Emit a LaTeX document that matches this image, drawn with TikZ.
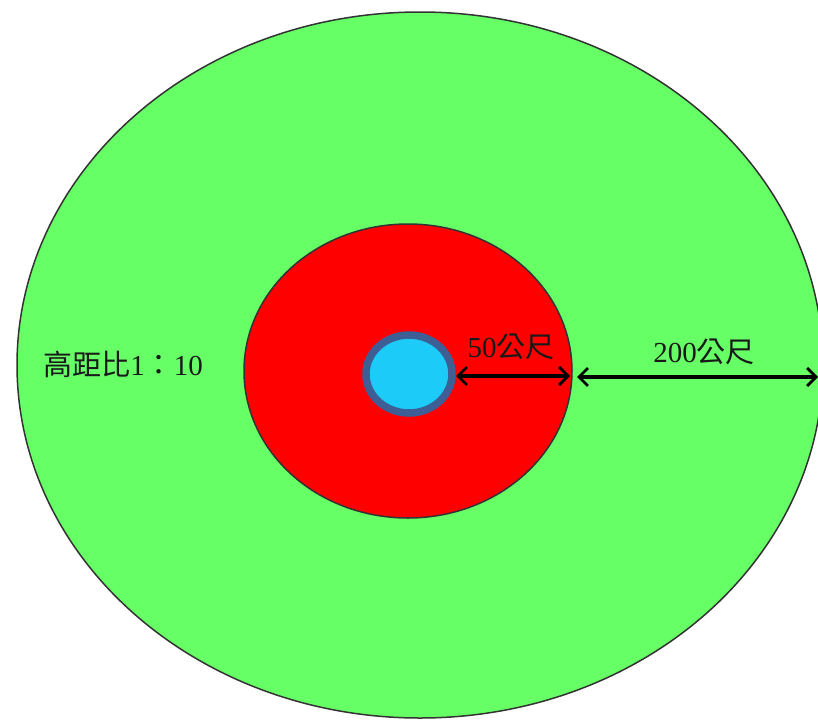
\documentclass[tikz,border=0pt]{standalone}
\usepackage{fontspec}
\newfontfamily\cjk{Noto Sans CJK TC}
\setmainfont{Liberation Serif}
\usetikzlibrary{arrows.meta,patterns}
\definecolor{grn}{HTML}{66FF66}
\definecolor{rd}{HTML}{FF0000}
\definecolor{cyanfill}{HTML}{1CCBF7}
\definecolor{ringc}{HTML}{3E5F96}
\tikzset{
  zone/.style={draw=black!80, line width=1.5pt},
  dim/.style={line width=3.4pt, {Straight Barb[length=9pt,width=18pt,line width=2.8pt]}-{Straight Barb[length=9pt,width=18pt,line width=2.8pt]}},
  lbl/.style={font=\fontsize{29}{31}\selectfont, text=black!90, inner sep=0pt}
}
\begin{document}
\begin{tikzpicture}[x=1pt,y=-1pt]
\useasboundingbox (0,0) rectangle (818,720);
\clip (0,0) rectangle (818,720);
\fill[white] (0,0) rectangle (818,720);
\draw[zone, fill=grn] (420,365) ellipse [x radius=403, y radius=353];
\draw[zone, fill=rd] (408,371) ellipse [x radius=164, y radius=147];
\draw[draw=ringc, line width=7.5pt, fill=cyanfill] (409,374) ellipse [x radius=43, y radius=39];
\coordinate (blueE) at (456,376);
\coordinate (redE) at (570,376);
\coordinate (redE2) at (577,377);
\coordinate (edge) at (818,377);
\draw[dim] (blueE) -- (redE);
\draw[dim] (redE2) -- (edge);
\node[lbl] (l50) at (511,347) {50{\cjk 公尺}};
\node[lbl] (l200) at (704,352) {200{\cjk 公尺}};
\node[lbl] (ratio) at (123,364) {{\cjk 高距比}1{\cjk ：}10};
\end{tikzpicture}
\end{document}
